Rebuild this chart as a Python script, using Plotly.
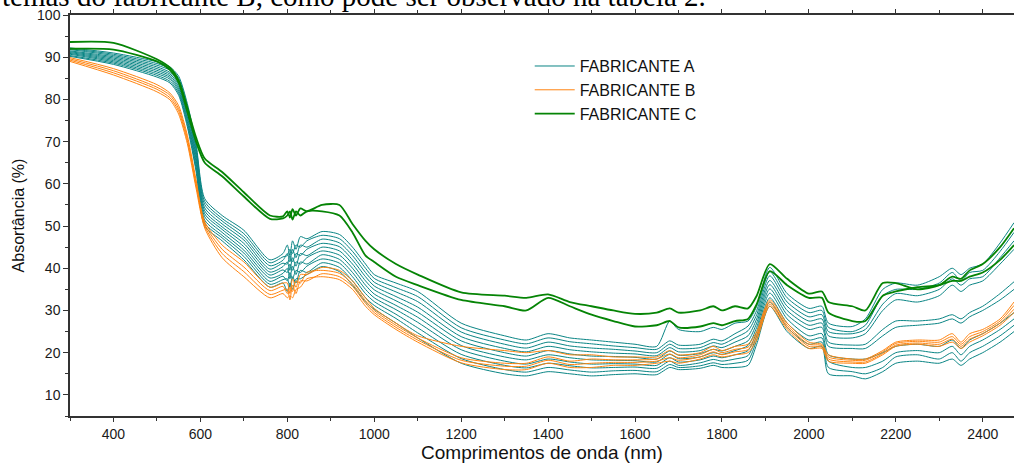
import plotly.graph_objects as go

wavelength = [300, 400, 500, 530, 550, 570, 590, 610, 650, 700,
              760, 790, 800, 806, 812, 820, 830, 845, 880, 920,
              950, 980, 1000, 1050, 1100, 1200, 1300, 1350, 1400, 1450,
              1500, 1550, 1600, 1650, 1680, 1700, 1750, 1780, 1800, 1830,
              1860, 1880, 1910, 1950, 2000, 2030, 2045, 2100, 2130, 2170,
              2200, 2250, 2300, 2330, 2350, 2370, 2400, 2440, 2472]

# Fabricante A (teal)
a01 = [92.2, 91.0, 88.9, 87.7, 85.5, 79.0, 69.5, 56.5, 52.5, 49.0,
       42.0, 43.5, 45.5, 43.0, 46.5, 44.5, 47.5, 47.0, 48.7, 48.0,
       45.0, 41.0, 38.5, 36.5, 34.5, 27.0, 24.0, 23.0, 24.5, 23.5,
       23.0, 22.5, 22.0, 21.5, 27.5, 25.5, 25.0, 26.0, 25.5, 27.0,
       27.5, 31.0, 40.2, 34.0, 30.5, 31.0, 27.0, 26.2, 28.0, 35.0,
       36.5, 36.0, 38.0, 40.0, 38.5, 40.0, 41.0, 46.0, 50.8]
a02 = [92.0, 90.7, 88.5, 87.3, 85.0, 78.4, 68.8, 55.8, 51.8, 48.2,
       41.3, 42.7, 43.0, 44.5, 43.5, 45.5, 45.0, 46.5, 47.8, 47.0,
       44.0, 40.0, 37.6, 35.4, 33.3, 25.9, 23.0, 22.1, 23.5, 22.6,
       22.1, 21.6, 21.2, 20.8, 22.8, 21.8, 22.0, 23.2, 22.8, 24.5,
       26.3, 30.0, 39.2, 33.0, 29.5, 30.0, 26.0, 25.0, 26.5, 33.5,
       35.0, 35.0, 36.5, 39.0, 37.0, 39.0, 39.5, 44.0, 48.5]
a03 = [91.8, 90.4, 88.1, 86.9, 84.5, 77.8, 68.1, 55.1, 51.2, 47.4,
       40.6, 41.9, 43.5, 41.5, 44.5, 42.5, 45.5, 45.0, 46.9, 46.0,
       43.0, 39.0, 36.7, 34.4, 32.1, 24.9, 22.0, 21.1, 22.5, 21.6,
       21.1, 20.8, 20.4, 20.0, 22.0, 21.0, 21.2, 22.4, 22.0, 23.5,
       25.2, 29.0, 38.2, 32.0, 28.5, 29.0, 25.0, 24.5, 25.5, 31.5,
       34.0, 33.5, 35.0, 37.5, 36.0, 37.5, 38.0, 42.5, 46.5]
a04 = [91.5, 90.1, 87.7, 86.4, 84.0, 77.2, 67.3, 54.3, 50.5, 46.7,
       39.8, 41.2, 41.0, 43.0, 41.5, 43.5, 43.0, 44.5, 45.9, 45.1,
       42.0, 38.0, 35.8, 33.3, 30.8, 23.8, 21.0, 20.2, 21.5, 20.7,
       20.2, 19.9, 19.7, 19.3, 21.2, 20.2, 20.5, 21.6, 21.2, 22.5,
       24.0, 28.0, 37.1, 31.0, 27.5, 28.0, 24.0, 23.5, 24.5, 30.0,
       32.5, 32.0, 33.5, 36.0, 34.5, 36.0, 37.0, 41.0, 44.5]
a05 = [91.3, 89.8, 87.3, 86.0, 83.5, 76.6, 66.6, 53.6, 49.8, 45.9,
       39.1, 40.4, 41.5, 39.5, 42.5, 40.5, 43.5, 43.0, 45.0, 44.1,
       41.0, 37.0, 34.9, 32.3, 29.6, 22.8, 20.0, 19.2, 20.5, 19.7,
       19.2, 19.1, 18.9, 18.5, 20.4, 19.4, 19.8, 20.8, 20.4, 21.5,
       22.8, 27.0, 36.1, 30.0, 26.5, 27.0, 22.5, 21.8, 22.0, 25.5,
       27.5, 27.5, 28.0, 29.0, 28.0, 29.5, 31.0, 34.0, 36.8]
a06 = [91.1, 89.5, 86.9, 85.6, 83.0, 75.9, 65.9, 52.9, 49.2, 45.1,
       38.4, 39.6, 39.0, 41.0, 39.5, 41.5, 41.0, 42.5, 44.1, 43.1,
       40.0, 36.0, 33.9, 31.2, 28.4, 21.7, 19.0, 18.3, 19.5, 18.8,
       18.3, 18.2, 18.1, 17.8, 19.6, 18.6, 19.0, 20.0, 19.6, 20.5,
       21.7, 26.0, 35.1, 29.0, 25.5, 26.0, 21.5, 21.0, 21.0, 24.0,
       26.0, 26.5, 27.0, 28.0, 27.0, 28.5, 30.0, 32.5, 35.0]
a07 = [90.9, 89.2, 86.5, 85.2, 82.5, 75.3, 65.2, 52.2, 48.5, 44.3,
       37.7, 38.8, 40.0, 37.5, 40.5, 38.5, 41.5, 41.0, 43.2, 42.1,
       39.0, 35.0, 33.0, 30.2, 27.2, 20.7, 18.0, 17.3, 18.5, 17.8,
       17.3, 17.4, 17.3, 17.0, 18.8, 17.8, 18.3, 19.2, 18.8, 19.5,
       20.5, 25.0, 34.1, 28.0, 24.0, 24.5, 19.5, 18.5, 18.5, 20.0,
       21.5, 22.0, 21.5, 23.0, 21.0, 23.0, 24.5, 27.0, 29.5]
a08 = [90.7, 88.9, 86.1, 84.8, 82.0, 74.7, 64.4, 51.4, 47.8, 43.6,
       36.9, 38.1, 37.0, 39.0, 37.5, 39.5, 39.0, 40.5, 42.2, 41.2,
       38.0, 34.0, 32.1, 29.1, 25.9, 19.6, 17.0, 16.4, 17.5, 16.9,
       16.4, 16.5, 16.6, 16.3, 18.0, 17.0, 17.6, 18.4, 18.0, 18.5,
       19.3, 24.0, 33.0, 27.0, 23.0, 23.5, 18.0, 16.5, 16.5, 18.0,
       20.0, 20.5, 20.0, 21.5, 19.5, 21.5, 23.0, 25.5, 28.0]
a09 = [90.4, 88.6, 85.7, 84.3, 81.5, 74.1, 63.7, 50.7, 47.2, 42.8,
       36.2, 37.3, 37.5, 35.5, 38.0, 36.5, 39.5, 39.0, 41.3, 40.2,
       37.0, 33.0, 31.2, 28.1, 24.7, 18.6, 16.0, 15.4, 16.5, 15.9,
       15.4, 15.7, 15.8, 15.5, 17.2, 16.5, 16.9, 17.6, 17.2, 17.5,
       18.2, 23.0, 32.0, 26.0, 22.0, 22.5, 16.5, 15.5, 15.0, 16.5,
       19.0, 19.5, 18.5, 20.0, 18.0, 20.0, 21.5, 24.0, 26.5]
a10 = [90.2, 88.3, 85.3, 83.9, 81.0, 73.5, 63.0, 50.0, 46.5, 42.0,
       35.5, 36.5, 34.5, 36.5, 35.0, 37.5, 37.5, 38.5, 40.4, 39.2,
       36.0, 32.0, 30.3, 27.0, 23.5, 17.5, 15.0, 14.5, 15.5, 15.0,
       14.5, 14.8, 15.0, 14.8, 16.5, 16.0, 16.3, 17.0, 16.5, 16.5,
       17.0, 22.0, 31.0, 25.0, 21.0, 21.5, 15.0, 14.5, 13.8, 15.5,
       17.5, 18.0, 17.5, 18.5, 17.0, 18.5, 20.0, 22.5, 25.0]

# Fabricante B (orange)
b01 = [89.9, 87.3, 83.5, 81.5, 78.5, 71.5, 61.0, 51.0, 45.5, 41.5,
       35.5, 36.5, 36.5, 34.0, 37.5, 35.5, 38.5, 38.5, 40.2, 39.5,
       37.0, 33.0, 30.5, 27.0, 24.0, 21.5, 20.5, 20.0, 20.5, 19.5,
       19.5, 19.0, 19.0, 19.0, 20.5, 19.5, 20.0, 21.5, 20.5, 21.5,
       22.0, 25.0, 32.5, 27.0, 22.5, 22.0, 19.5, 18.5, 18.5, 20.5,
       22.5, 23.0, 23.0, 24.5, 22.5, 24.5, 25.5, 28.0, 32.0]
b02 = [89.6, 86.8, 82.9, 81.0, 77.8, 70.8, 60.3, 50.5, 44.5, 40.3,
       34.7, 35.7, 34.0, 35.5, 34.5, 37.0, 36.5, 39.0, 39.5, 38.8,
       36.3, 32.3, 30.0, 26.5, 23.5, 18.8, 17.5, 17.5, 19.0, 18.0,
       18.5, 18.3, 18.3, 18.5, 19.7, 18.8, 19.5, 20.8, 20.0, 20.8,
       21.3, 24.3, 32.0, 26.5, 22.0, 21.7, 19.0, 18.2, 18.2, 20.2,
       22.2, 22.7, 22.5, 23.8, 22.0, 23.8, 25.0, 27.5, 31.2]
b03 = [89.3, 86.3, 82.4, 80.4, 77.2, 70.2, 59.7, 50.0, 43.5, 39.2,
       33.8, 34.8, 35.0, 32.5, 36.0, 34.0, 37.0, 37.0, 38.7, 38.0,
       35.7, 31.7, 29.5, 26.0, 23.0, 18.2, 16.8, 16.8, 18.2, 17.2,
       17.5, 17.7, 17.7, 18.0, 18.8, 18.2, 19.0, 20.2, 19.5, 20.2,
       20.7, 23.7, 31.5, 26.0, 21.5, 21.3, 18.5, 17.8, 17.8, 19.8,
       21.8, 22.3, 22.0, 23.2, 21.5, 23.2, 24.5, 27.0, 30.3]
b04 = [89.0, 85.8, 81.8, 79.9, 76.5, 69.5, 59.0, 49.5, 42.5, 38.0,
       33.0, 34.0, 33.0, 33.5, 33.0, 35.0, 35.5, 37.5, 38.0, 37.3,
       35.0, 31.0, 29.0, 25.5, 22.5, 17.6, 16.0, 16.0, 17.5, 16.5,
       16.5, 17.0, 17.0, 17.5, 18.0, 17.5, 18.5, 19.5, 19.0, 19.5,
       20.0, 23.0, 31.0, 25.5, 21.0, 21.0, 18.0, 17.5, 17.5, 19.5,
       21.5, 22.0, 21.5, 22.5, 21.0, 22.5, 24.0, 26.5, 29.5]

# Fabricante C (green)
c01 = [93.6, 93.4, 89.5, 87.5, 84.5, 78.0, 71.0, 66.0, 62.8, 58.0,
       52.5, 52.3, 53.5, 52.0, 54.0, 52.5, 54.2, 53.5, 55.0, 55.0,
       50.5, 46.5, 44.5, 41.0, 38.5, 34.3, 33.5, 33.0, 33.8, 32.0,
       31.0, 30.0, 29.2, 29.5, 30.5, 29.5, 30.0, 31.0, 30.0, 31.0,
       30.5, 33.5, 41.0, 37.5, 34.0, 34.5, 32.0, 31.0, 30.0, 36.5,
       36.5, 35.0, 36.0, 38.0, 37.5, 39.5, 41.0, 45.0, 49.5]
c02 = [92.0, 91.8, 89.0, 87.0, 84.0, 77.0, 70.0, 65.0, 61.8, 57.0,
       51.7, 51.8, 52.5, 53.5, 51.5, 53.5, 52.5, 53.5, 53.5, 52.5,
       48.5, 43.0, 41.5, 38.0, 36.0, 32.5, 31.0, 30.0, 33.0, 31.0,
       29.0, 27.5, 26.2, 26.5, 27.5, 26.0, 26.2, 27.0, 26.5, 27.5,
       28.0, 31.5, 39.3, 36.0, 33.0, 33.0, 29.5, 27.5, 27.5, 33.5,
       34.5, 35.5, 36.0, 37.0, 37.0, 38.0, 39.0, 42.0, 45.5]

groups = [
    ("FABRICANTE A", "#0a8585", 1.0, [a01, a02, a03, a04, a05, a06, a07, a08, a09, a10]),
    ("FABRICANTE B", "#ff8410", 1.0, [b01, b02, b03, b04]),
    ("FABRICANTE C", "#058405", 1.8, [c01, c02]),
]

x_ticks = [400, 600, 800, 1000, 1200, 1400, 1600, 1800, 2000, 2200, 2400]
y_ticks = [10, 20, 30, 40, 50, 60, 70, 80, 90, 100]

FONT = "Arial, 'Liberation Sans', sans-serif"

fig = go.Figure()
for name, color, width, curves in groups:
    for i, ys in enumerate(curves):
        fig.add_trace(go.Scatter(
            x=wavelength, y=ys, mode="lines", name=name,
            legendgroup=name, showlegend=(i == 0),
            line=dict(color=color, width=width, shape="spline", smoothing=0.7),
            hoverinfo="skip",
        ))

fig.update_layout(
    width=1014, height=463,
    margin=dict(l=70, r=0, t=15, b=47),
    paper_bgcolor="white", plot_bgcolor="white",
    font=dict(family=FONT, color="#1a1a1a"),
    legend=dict(
        x=0.487, y=0.915, xanchor="left", yanchor="top",
        bgcolor="rgba(0,0,0,0)", borderwidth=0,
        font=dict(family=FONT, size=16, color="#111111"),
        tracegroupgap=0, itemwidth=40,
    ),
    showlegend=True,
)

fig.update_xaxes(
    range=[300, 2472], tickvals=x_ticks,
    ticks="outside", ticklen=4, tickwidth=1.2, tickcolor="#333333",
    minor=dict(ticks="outside", ticklen=3, dtick=100, tick0=0, tickcolor="#333333", showgrid=False),
    showline=True, linecolor="#333333", linewidth=1.5, mirror="ticks",
    showgrid=False, zeroline=False,
    tickfont=dict(family=FONT, size=14, color="#1a1a1a"),
    title=dict(text="Comprimentos de onda (nm)", font=dict(family=FONT, size=19, color="#111111"), standoff=4),
)
fig.update_yaxes(
    range=[5, 100], tickvals=y_ticks,
    ticks="outside", ticklen=5, tickwidth=1.2, tickcolor="#333333",
    minor=dict(ticks="outside", ticklen=3, dtick=5, tick0=0, tickcolor="#333333", showgrid=False),
    showline=True, linecolor="#333333", linewidth=1.5,
    showgrid=False, zeroline=False,
    tickfont=dict(family=FONT, size=14, color="#1a1a1a"),
    title=dict(text="Absortância (%)", font=dict(family=FONT, size=16, color="#111111"), standoff=8),
)

fig.add_annotation(
    text="temas do fabricante B, como pode ser observado na tabela 2.",
    xref="paper", yref="paper", x=-70 / 944, y=1.047,
    xanchor="left", yanchor="middle", showarrow=False,
    font=dict(family="'Liberation Serif', 'Times New Roman', serif", size=29, color="#000000"),
)

fig.write_html("out.html")
